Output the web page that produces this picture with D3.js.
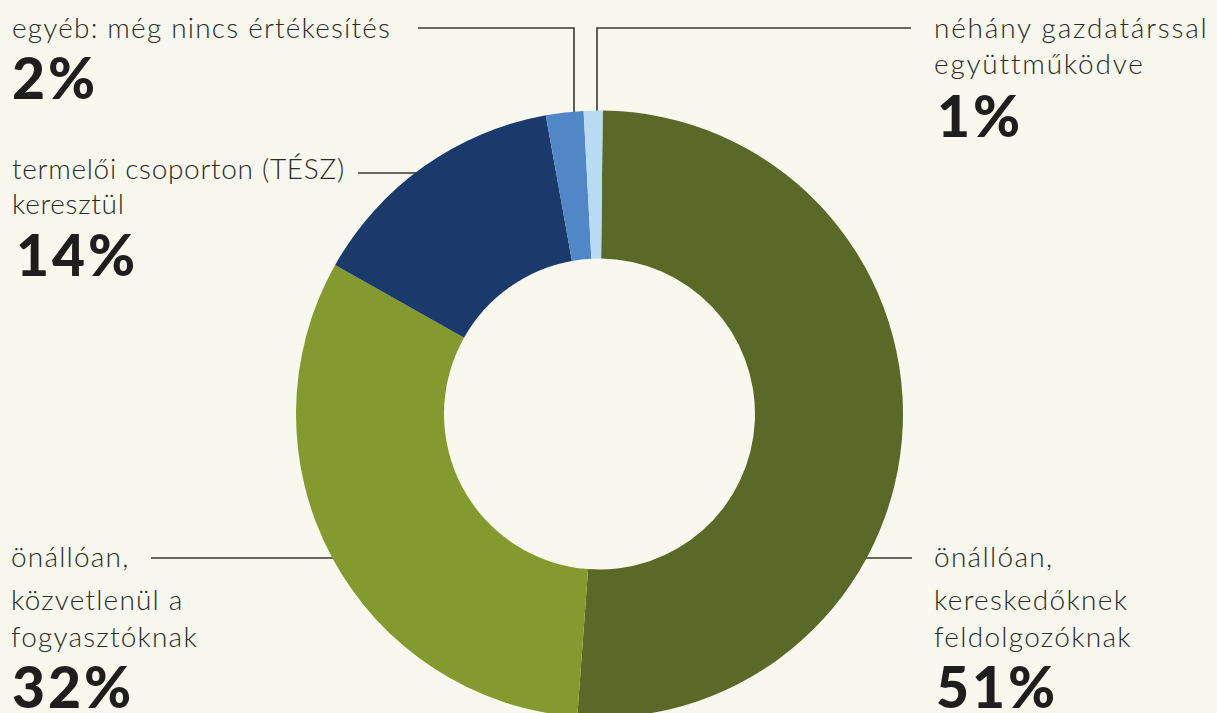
<!DOCTYPE html>
<html>
<head>
<meta charset="utf-8">
<script src="https://cdn.jsdelivr.net/npm/d3@7"></script>
<style>
  body { margin: 0; background: #f8f8ee; }
  svg { display: block; }
</style>
</head>
<body>
<svg width="1217" height="713"></svg>
<script>
// Data
const categories = [
    "önállóan, kereskedőknek feldolgozóknak",
    "önállóan, közvetlenül a fogyasztóknak",
    "termelői csoporton (TÉSZ) keresztül",
    "egyéb: még nincs értékesítés",
    "néhány gazdatárssal együttműködve"
];
const shares = [51, 32, 14, 2, 1];
const labelLines = [
    ["önállóan,", "kereskedőknek", "feldolgozóknak"],
    ["önállóan,", "közvetlenül a", "fogyasztóknak"],
    ["termelői csoporton (TÉSZ)", "keresztül"],
    ["egyéb: még nincs értékesítés"],
    ["néhány gazdatárssal", "együttműködve"]
];
const colors = ["#5a6828", "#849a2e", "#1a3a6b", "#5187c6", "#b8dbf3"];

// Layout
const width = 1217, height = 713;
const cx = 599.5, cy = 414;
const outerR = 303.5, innerR = 155.5;
const svg = d3.select("svg");

svg.append("rect").attr("width", width).attr("height", height).attr("fill", "#f8f8ee");

// label placement (text block x, line baselines, percent baseline, leader line, letter spacing)
const labelPos = [
    { x: 934, lines: [567, 610, 647], px: 936, py: 708, ls: 1.3, leader: [[912, 558], [cx + 250, 558]] },
    { x: 11, lines: [567, 610, 647], px: 12, py: 708, ls: 1.2, leader: [[151, 558], [cx - 250, 558]] },
    { x: 12, lines: [179, 214], px: 16, py: 276, ls: 0.7, leader: [[358, 173], [cx - 160, 173]] },
    { x: 12, lines: [38], px: 12, py: 99, ls: 1.2, leader: [[418, 28], [574, 28], [574, cy - outerR + 30]] },
    { x: 934, lines: [38, 74], px: 937, py: 137, ls: 1.8, leader: [[911, 28], [597, 28], [597, cy - outerR + 30]] }
];

// Leader lines (drawn under the ring)
svg.append("g")
    .selectAll("path")
    .data(labelPos)
    .enter()
    .append("path")
    .attr("d", d => d3.line()(d.leader))
    .attr("fill", "none")
    .attr("stroke", "#3a3a36")
    .attr("stroke-width", 1.6);

// Donut
const offset = 0.6 * Math.PI / 180;
const pie = d3.pie().sort(null).startAngle(offset).endAngle(offset + 2 * Math.PI);
const arc = d3.arc().innerRadius(innerR).outerRadius(outerR);

svg.append("g")
    .attr("transform", `translate(${cx}, ${cy})`)
    .selectAll("path")
    .data(pie(shares))
    .enter()
    .append("path")
    .attr("d", arc)
    .attr("fill", (d, i) => colors[i])
    .append("title")
    .text((d, i) => `${categories[i]}: ${shares[i]}%`);

// Labels
const labels = svg.append("g");
labelPos.forEach((p, i) => {
    labelLines[i].forEach((line, j) => {
        labels.append("text")
            .attr("x", p.x)
            .attr("y", p.lines[j])
            .attr("font-family", "Lato, 'Open Sans', sans-serif")
            .attr("font-weight", 300)
            .attr("font-size", 28)
            .attr("letter-spacing", p.ls)
            .attr("fill", "#2a2a27")
            .text(line);
    });
    labels.append("text")
        .attr("x", p.px)
        .attr("y", p.py)
        .attr("font-family", "Lato, sans-serif")
        .attr("font-weight", 900)
        .attr("font-size", 57)
        .attr("letter-spacing", 3)
        .attr("fill", "#1e1e1c")
        .text(shares[i] + "%");
});
</script>
</body>
</html>
